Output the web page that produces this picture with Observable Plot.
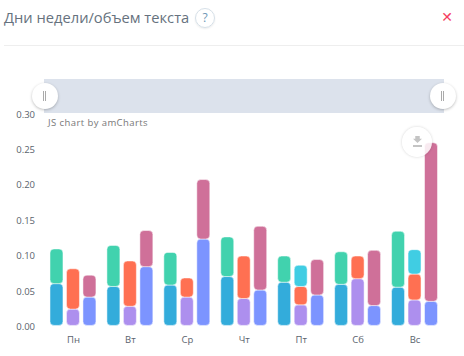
<!DOCTYPE html>
<html><head><meta charset="utf-8">
<script src="https://cdn.jsdelivr.net/npm/d3@7"></script>
<script src="https://cdn.jsdelivr.net/npm/@observablehq/plot@0.6"></script>
<style>
html,body{margin:0;padding:0;background:#fff;overflow:hidden}
#wrap{position:relative;width:464px;height:356px;font-family:"Open Sans",sans-serif}
#wrap>div{position:absolute;box-sizing:border-box}
#title{left:4px;top:5px;font-size:14.7px;color:#66727e;white-space:nowrap;line-height:24px}
#help{left:195px;top:8px;width:20px;height:20px;border-radius:50%;border:1px solid #d6e0e8;color:#6f97b5;font-size:12px;line-height:18px;text-align:center;box-shadow:0 1px 2px rgba(0,0,0,.08)}
#close{left:439px;top:5px;width:16px;color:#f5405f;font:bold 14px/24px "DejaVu Sans";text-align:center}
#rule{left:4px;top:45px;width:460px;height:1px;background:#eeeeee}
#bar{left:44px;top:79px;width:400px;height:34px;background:#dce2ec}
.h{width:26px;height:26px;top:83px;border-radius:50%;background:#fff;box-shadow:0 1px 3px rgba(0,0,0,.25)}
.h i{position:absolute;top:8px;left:11px;width:3px;height:10px;border-left:1px solid #aaa;border-right:1px solid #aaa;box-sizing:border-box}
#hl{left:31.5px}#hr{left:430px}
#credit{left:48px;top:116px;font:9.5px/14px "Open Sans",sans-serif;letter-spacing:.42px;color:#777;white-space:nowrap}
#dl{left:402px;top:127px;width:30px;height:30px;border-radius:50%;background:rgba(255,255,255,.85);box-shadow:0 0 3px rgba(0,0,0,.18)}
#dl b{position:absolute;left:11px;top:9px;width:9px;height:7px;background:#c4c4c4;clip-path:polygon(25% 0,75% 0,75% 40%,100% 40%,50% 100%,0 40%,25% 40%)}
#dl u{position:absolute;left:11px;top:18px;width:9px;height:1.5px;background:#c4c4c4}
</style></head>
<body><div id="wrap">
<div id="chart" style="left:0;top:0"></div>
<div id="title">Дни недели/объем текста</div>
<div id="help">?</div>
<div id="close">✕</div>
<div id="rule"></div>
<div id="bar"></div>
<div class="h" id="hl"><i></i></div>
<div class="h" id="hr"><i></i></div>
<div id="credit">JS chart by amCharts</div>
<div id="dl"><b></b><u></u></div>
</div>
<script>
const days = ["Пн","Вт","Ср","Чт","Пт","Сб","Вс"];
const blue       = [.059,.055,.057,.069,.061,.058,.054];
const green      = [.049,.058,.046,.056,.037,.046,.079];
const purple     = [.023,.027,.040,.038,.029,.066,.036];
const orange     = [.057,.064,.027,.060,.026,.032,.0365];
const cyan       = [0,0,0,0,.030,0,.0345];
const periwinkle = [.040,.083,.122,.050,.043,.028,.034];
const pink       = [.031,.051,.084,.090,.050,.078,.224];
const yTicks = [0,.05,.10,.15,.20,.25,.30];
const seriesNames  = ["blue","green","purple","orange","cyan","periwinkle","pink"];
const seriesColors = ["#33acdb","#41d2ae","#ad8fee","#ff7052","#40cde3","#7c94ff","#cf7099"];

const groups = [[0,"blue",blue],[0,"green",green],[1,"purple",purple],[1,"orange",orange],[1,"cyan",cyan],[2,"periwinkle",periwinkle],[2,"pink",pink]];
const rows = groups.flatMap(([slot,series,vals]) =>
  vals.map((value,i)=>({day:days[i],slot,series,value})).filter(d=>d.value>0));

const plot = Plot.plot({
  width:464,height:356,
  marginTop:113,marginBottom:30.6,marginLeft:44.5,marginRight:21,
  style:{fontFamily:"'Open Sans', sans-serif",fontSize:"9.5px",color:"#5a636d",background:"transparent"},
  fx:{domain:days,padding:0,round:false,label:null,tickSize:0,tickPadding:10},
  x:{domain:[0,1,2],paddingInner:.212,paddingOuter:.333,round:false,axis:null},
  y:{domain:[0,.3],label:null},
  color:{domain:seriesNames,range:seriesColors},
  marks:[
    Plot.axisY({ticks:yTicks,tickSize:0,tickPadding:10,tickFormat:d3.format(".2f"),label:null,dy:1}),
    Plot.barY(rows,{fx:"day",x:"slot",y:"value",fill:"series",rx:4,stroke:"#fff",strokeOpacity:.5,strokeWidth:1})
  ]
});
document.getElementById("chart").appendChild(plot);
</script>
</body></html>
